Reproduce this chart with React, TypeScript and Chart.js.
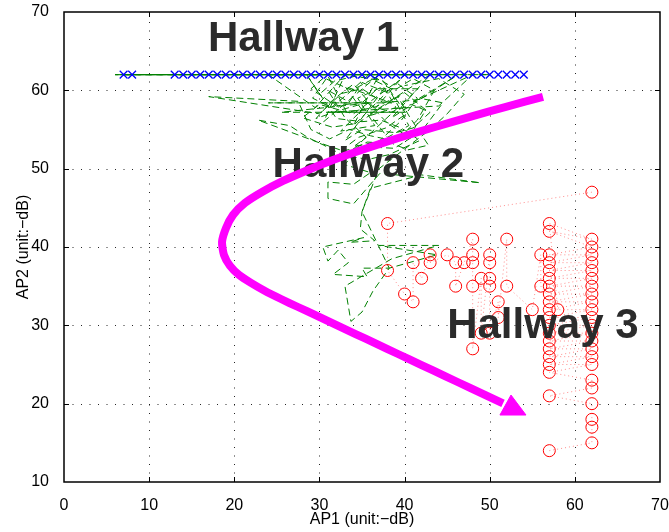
import React, { useEffect, useRef } from 'react';
import { Chart, registerables } from 'chart.js';

Chart.register(...registerables);

// ---- axis ticks ----
const xTickValues = [0, 10, 20, 30, 40, 50, 60, 70];
const yTickValues = [10, 20, 30, 40, 50, 60, 70];
const xTitle = 'AP1 (unit:\u2212dB)';
const yTitle = 'AP2 (unit:\u2212dB)';

// ---- Hallway 1 (blue x markers) ----
const hallway1X = [7, 8, 13, 14, 15, 16, 17, 18, 19, 20, 21, 22, 23, 24, 25, 26, 27, 28, 29, 30, 31, 32, 33, 34, 35, 36, 37, 38, 39, 40, 41, 42, 43, 44, 45, 46, 47, 48, 49, 50, 51, 52, 53, 54];
const hallway1Y = [62, 62, 62, 62, 62, 62, 62, 62, 62, 62, 62, 62, 62, 62, 62, 62, 62, 62, 62, 62, 62, 62, 62, 62, 62, 62, 62, 62, 62, 62, 62, 62, 62, 62, 62, 62, 62, 62, 62, 62, 62, 62, 62, 62];

// ---- Hallway 2 (green dashed trace) ----
const hallway2X = [
  6, 45, 6.5, 50, 7, 30, 6, 42,
  24, 29.5, 33, 30.5, 37, 34, 40, 36, 43, 38.5, 46, 41, 48, 44,
  31, 40, 25.5, 36, 24, 38.5,
  33, 35, 32.5, 36.5, 34.5, 37.5, 39, 36, 38, 40.5, 38.5, 35, 33.5, 31, 33, 35.5, 34, 37, 39.5, 41.5, 39, 36.5, 34, 30, 28, 31.5, 34.5, 37, 40, 42.5, 40.5, 38, 35.5, 32, 29, 30.5, 33.8, 36.2, 38.8, 41, 43.5, 41.5, 39, 36, 33.5, 31.2, 29, 27.5, 17, 30, 32.6, 35, 37.4, 39.8, 42.2, 44.5, 42, 38.8, 35.2, 32.4, 34.6, 37.8, 40.2, 37.5, 34.2, 31.8, 30, 28.5, 32, 35, 37.2, 39.6, 41.8, 38.2, 35.8, 33, 30.5, 28.6, 26.5, 22.8, 30, 33.5,
  41.6, 36.8, 34.8, 32.2, 29.6, 31.6, 34, 36.2, 38.4, 40.8, 43, 41, 39, 37, 35, 33, 38, 35.8, 33.6, 31.4, 29.2, 31, 33.2, 36.4, 39.2, 40.6, 42.8, 40.4, 38.6, 35.6, 34.5,
  33, 36, 34, 31, 31, 34, 37.1, 48.9, 42, 36, 35, 34.8, 36.5, 33.6, 35.2, 30.4, 31, 32.2, 33.4, 31.6, 35.6, 35, 38.2, 43.8, 37, 44, 38.5, 33, 33.7, 35, 36.3, 38.2, 35, 37, 40, 43, 45, 47, 44, 40];
const hallway2Y = [
  62, 62, 62, 62, 62, 62, 62, 62,
  62, 57.8, 62, 56, 62, 55.5, 62, 57, 62, 56.5, 61.8, 58.5, 62, 58,
  57.2, 57.2, 57.2, 58.4, 58.4, 58.4,
  60.5, 57.5, 54.8, 55.5, 59, 60.5, 57.8, 56.8, 54, 55.5, 59.5, 61, 58.5, 60, 56.5, 54, 52.8, 53.5, 56, 59, 61, 59, 57, 58.2, 56.5, 55.3, 55.8, 57.6, 59.7, 57.5, 54, 55.8, 58.6, 58, 60.2, 61.6, 60, 61.4, 60, 61.5, 60, 56.2, 53.5, 54.2, 55, 53.8, 55, 58.6, 59.2, 57, 59.6, 60.2, 58.5, 58.6, 58.9, 58.4, 54.8, 52.6, 52.8, 52.2, 54, 55.2, 57, 61.2, 61.8, 61.2, 59.5, 62, 56.4, 56, 56.2, 55.2, 53.6, 51.8, 51.2, 51.6, 53, 54, 55.5, 56.2, 53.3, 52,
  60.2, 60.2, 58.2, 57.4, 56.4, 58.8, 60.8, 58, 57.2, 58.2, 57.2, 55.2, 54.6, 54.8, 55, 53.6, 60.8, 62, 59.8, 57.8, 59, 61.8, 57.2, 57.8, 59.2, 56.6, 53, 52.4, 53.2, 53.4, 52.8,
  50.5, 49.5, 48, 48.3, 46.2, 45.5, 49.4, 48.2, 49.2, 47.5, 44.5, 42.3, 40.8, 40.6, 41.2, 40, 38.2, 39.6, 38, 36.5, 36.2, 37.3, 37.3, 39, 40.2, 40.2, 38.5, 35, 30.5, 31.7, 34.4, 37.3, 44.5, 50, 52.5, 55, 57, 59.5, 61.5, 60.6];

// ---- Hallway 3 (red circles, dotted trace) ----
const hallway3X = [62, 38, 38, 40, 41, 41, 42, 43, 43, 45, 46, 46, 47, 48, 48, 48, 48, 48, 49, 49, 50, 50, 50, 50, 50, 51, 51, 52, 52, 55, 56, 56, 58,
  57, 62, 57, 62, 57, 62, 57, 62, 57, 62, 57, 62, 57, 62, 57, 62, 57, 62, 57, 62, 57, 62, 57, 62, 57, 62, 57, 62, 57, 62, 57, 62, 57, 62, 57, 62, 62, 57, 62, 62, 62, 62, 57];
const hallway3Y = [47, 43, 37, 34, 33, 38, 36, 39, 38, 39, 38, 35, 38, 41, 39, 38, 35, 27, 36, 29, 39, 38, 36, 35, 29, 33, 31, 41, 35, 32, 39, 35, 32,
  43, 41, 42, 40, 39, 39, 38, 38, 37, 37, 36, 36, 35, 35, 34, 34, 33, 33, 32, 32, 31, 31, 30, 30, 29, 29, 28, 28, 27, 27, 26, 26, 25, 25, 24, 23, 22, 21, 20, 18, 17, 15, 14];

// ---- magenta arrow ----
const arrowX = [56.26, 51.8, 47.69, 43.58, 39.46, 35.47, 31.59, 28.66, 25.72, 23.26, 21.26, 19.85, 19.03, 18.56, 18.79, 19.5, 20.55, 21.96, 23.61, 25.49, 27.48, 29.6, 31.83, 34.18, 36.65, 39.23, 41.93, 44.75, 47.69, 51.56];
const arrowY = [59.15, 57.87, 56.6, 55.32, 53.98, 52.58, 51.11, 49.83, 48.43, 47.02, 45.62, 44.09, 42.43, 40.64, 38.98, 37.58, 36.43, 35.41, 34.38, 33.36, 32.34, 31.26, 30.12, 28.92, 27.66, 26.34, 24.96, 23.52, 22.01, 20.03];
const arrowHeadX = [54.26, 52.5, 51.2, 54.26];
const arrowHeadY = [18.55, 21.1, 18.55, 18.55];

// ---- text annotations ----
const labelTexts = ['Hallway 1', 'Hallway 2', 'Hallway 3'];
const labelX = [16.9, 24.5, 45.0];
const labelY = [65.0, 48.9, 28.4];

const FONT = '"Liberation Sans", Arial, Helvetica, sans-serif';

const zip = (xs: number[], ys: number[]) => xs.map((x, i) => ({ x, y: ys[i] }));

const matlabFrame = {
  id: 'matlabFrame',
  beforeDatasetsDraw(chart: any) {
    const { ctx, chartArea: a, scales } = chart;
    const sx = scales.x, sy = scales.y;
    ctx.save();
    ctx.strokeStyle = 'rgba(0,0,0,0.85)';
    ctx.lineWidth = 1;
    ctx.setLineDash([1, 7.5]);
    for (const v of xTickValues) {
      if (v <= sx.min || v >= sx.max) continue;
      const px = Math.round(sx.getPixelForValue(v)) + 0.5;
      ctx.beginPath();
      ctx.moveTo(px, a.bottom);
      ctx.lineTo(px, a.top);
      ctx.stroke();
    }
    for (const v of yTickValues) {
      if (v <= sy.min || v >= sy.max) continue;
      const py = Math.round(sy.getPixelForValue(v)) + 0.5;
      ctx.beginPath();
      ctx.moveTo(a.left, py);
      ctx.lineTo(a.right, py);
      ctx.stroke();
    }
    ctx.restore();
  },
  afterDatasetDraw(chart: any, args: any) {
    if (args.index !== 2) return;
    const { ctx, scales } = chart;
    ctx.save();
    ctx.font = `bold 42px ${FONT}`;
    ctx.fillStyle = '#2b2b2b';
    ctx.textAlign = 'left';
    ctx.textBaseline = 'alphabetic';
    labelTexts.forEach((t, i) => {
      ctx.fillText(t, scales.x.getPixelForValue(labelX[i]), scales.y.getPixelForValue(labelY[i]));
    });
    ctx.restore();
  },
  afterDraw(chart: any) {
    const { ctx, chartArea: a, scales } = chart;
    const sx = scales.x, sy = scales.y;
    ctx.save();
    ctx.strokeStyle = '#000';
    ctx.lineWidth = 1;
    ctx.setLineDash([]);
    const tl = 5;
    for (const v of xTickValues) {
      if (v <= sx.min || v >= sx.max) continue;
      const px = Math.round(sx.getPixelForValue(v)) + 0.5;
      ctx.beginPath();
      ctx.moveTo(px, a.bottom); ctx.lineTo(px, a.bottom - tl);
      ctx.moveTo(px, a.top); ctx.lineTo(px, a.top + tl);
      ctx.stroke();
    }
    for (const v of yTickValues) {
      if (v <= sy.min || v >= sy.max) continue;
      const py = Math.round(sy.getPixelForValue(v)) + 0.5;
      ctx.beginPath();
      ctx.moveTo(a.left, py); ctx.lineTo(a.left + tl, py);
      ctx.moveTo(a.right, py); ctx.lineTo(a.right - tl, py);
      ctx.stroke();
    }
    ctx.lineWidth = 1.5;
    ctx.strokeRect(a.left, a.top, a.right - a.left, a.bottom - a.top);
    ctx.restore();
  },
};

export default function App() {
  const canvasRef = useRef<HTMLCanvasElement | null>(null);

  useEffect(() => {
    const canvas = canvasRef.current;
    if (!canvas) return;
    const chart = new Chart(canvas, {
      type: 'scatter',
      data: {
        datasets: [
          {
            label: 'arrowhead',
            data: zip(arrowHeadX, arrowHeadY),
            showLine: true,
            fill: 'shape',
            backgroundColor: '#ff00ff',
            borderColor: '#ff00ff',
            borderWidth: 1,
            pointRadius: 0,
            tension: 0,
          } as any,
          {
            label: 'arrow',
            data: zip(arrowX, arrowY),
            showLine: true,
            borderColor: '#ff00ff',
            borderWidth: 8,
            pointRadius: 0,
            tension: 0.2,
            borderCapStyle: 'butt',
            borderJoinStyle: 'round',
            fill: false,
          } as any,
          {
            label: 'Hallway 1',
            data: zip(hallway1X, hallway1Y),
            showLine: false,
            pointStyle: 'crossRot',
            pointRadius: 5.5,
            borderColor: '#0000ff',
            backgroundColor: '#0000ff',
            pointBorderWidth: 1.3,
          } as any,
          {
            label: 'Hallway 3',
            data: zip(hallway3X, hallway3Y),
            showLine: true,
            borderColor: 'rgba(255,0,0,0.45)',
            borderWidth: 1,
            borderDash: [1, 3],
            pointStyle: 'circle',
            pointRadius: 6,
            pointBorderColor: '#ff0000',
            pointBackgroundColor: 'rgba(0,0,0,0)',
            pointBorderWidth: 1,
            tension: 0,
          } as any,
          {
            label: 'Hallway 2',
            data: zip(hallway2X, hallway2Y),
            showLine: true,
            borderColor: '#008000',
            borderWidth: 1,
            borderDash: [7, 4],
            pointRadius: 0,
            tension: 0,
          } as any,
        ],
      },
      options: {
        animation: false,
        responsive: false,
        events: [],
        layout: { padding: { left: 0, right: 9, top: 12, bottom: 0 } },
        plugins: {
          legend: { display: false },
          tooltip: { enabled: false },
          title: { display: false },
        },
        scales: {
          x: {
            type: 'linear',
            min: 0,
            max: 70,
            grid: { display: false },
            border: { display: false },
            afterBuildTicks: (s: any) => { s.ticks = xTickValues.map((v) => ({ value: v })); },
            afterFit: (s: any) => { s.height = 50; s.paddingLeft = 0; s.paddingRight = 0; },
            ticks: { color: '#000', padding: 6, font: { family: FONT, size: 16 }, maxRotation: 0 },
            title: { display: true, text: xTitle, color: '#000', font: { family: FONT, size: 16 }, padding: { top: 0, bottom: 2.4 } },
          },
          y: {
            type: 'linear',
            min: 10,
            max: 70,
            grid: { display: false },
            border: { display: false },
            afterBuildTicks: (s: any) => { s.ticks = yTickValues.map((v) => ({ value: v })); },
            afterFit: (s: any) => { s.width = 64; s.paddingTop = 0; s.paddingBottom = 0; },
            ticks: { color: '#000', padding: 7, font: { family: FONT, size: 16 } },
            title: { display: true, text: yTitle, color: '#000', font: { family: FONT, size: 16 }, padding: { top: 14, bottom: 0 } },
          },
        },
      } as any,
      plugins: [matlabFrame],
    });
    return () => chart.destroy();
  }, []);

  return (
    <div style={{ position: 'fixed', left: 0, top: 0, width: 669, height: 532, background: '#fff' }}>
      <canvas ref={canvasRef} width={669} height={532} style={{ display: 'block' }} />
    </div>
  );
}
